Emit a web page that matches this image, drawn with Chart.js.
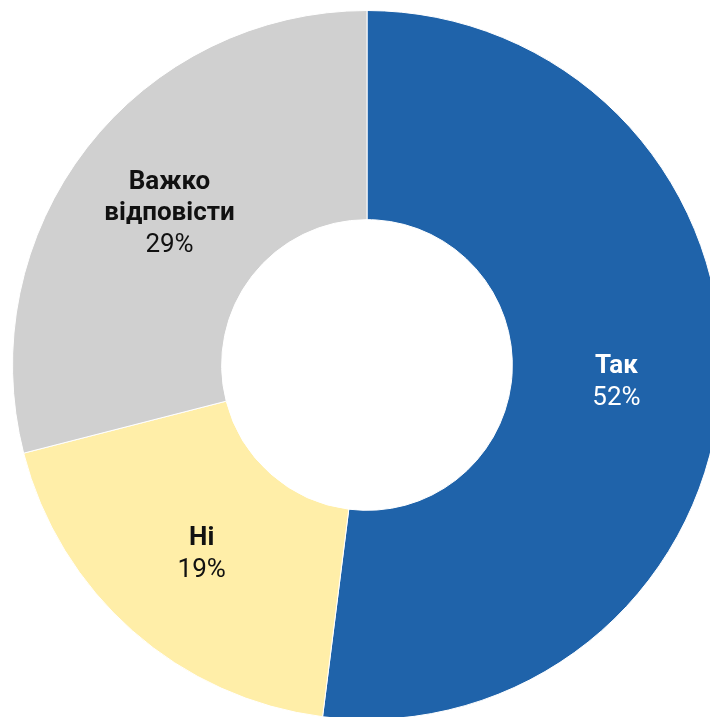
<!DOCTYPE html>
<html>
<head>
<meta charset="utf-8">
<script src="https://cdn.jsdelivr.net/npm/chart.js@4"></script>
<style>
  html, body { margin: 0; padding: 0; background: #fff; overflow: hidden; }
  body { width: 710px; height: 717px; position: relative; }
  #wrap { position: absolute; left: 12px; top: 10px; width: 710px; height: 710px; }
</style>
</head>
<body>
<div id="wrap"><canvas id="pie"></canvas></div>
<script>
const labels = ['Так', 'Ні', 'Важко відповісти']
const values = [52, 19, 29]
const colors = ['#1f63aa', '#ffeea8', '#d0d0d0']
const textColors = ['#ffffff', '#111111', '#111111']
// line breaks for the labels inside slices
const labelLines = [['Так'], ['Ні'], ['Важко', 'відповісти']]

const sliceLabels = {
  id: 'sliceLabels',
  afterDatasetsDraw(chart) {
    const ctx = chart.ctx
    const meta = chart.getDatasetMeta(0)
    ctx.save()
    ctx.textAlign = 'center'
    ctx.textBaseline = 'middle'
    meta.data.forEach((arc, i) => {
      const p = arc.tooltipPosition()
      const lines = labelLines[i].map(t => ({ t: t, bold: true }))
      lines.push({ t: values[i] + '%', bold: false })
      const lh = 31.5
      let y = p.y + 2 - (lines.length - 1) * lh / 2
      ctx.fillStyle = textColors[i]
      lines.forEach(l => {
        ctx.font = (l.bold ? 'bold ' : '') + '26px Roboto'
        ctx.fillText(l.t, p.x, y)
        y += lh
      })
    })
    ctx.restore()
  }
}

new Chart(document.querySelector('#pie'), {
  type: 'doughnut',
  data: {
    labels: labels,
    datasets: [{
      data: values,
      backgroundColor: colors,
      borderColor: '#ffffff',
      borderWidth: 1
    }]
  },
  options: {
    responsive: true,
    maintainAspectRatio: false,
    animation: false,
    cutout: '41%',
    layout: { padding: 0 },
    plugins: {
      legend: { display: false },
      tooltip: { enabled: false }
    }
  },
  plugins: [sliceLabels]
})
</script>
</body>
</html>
